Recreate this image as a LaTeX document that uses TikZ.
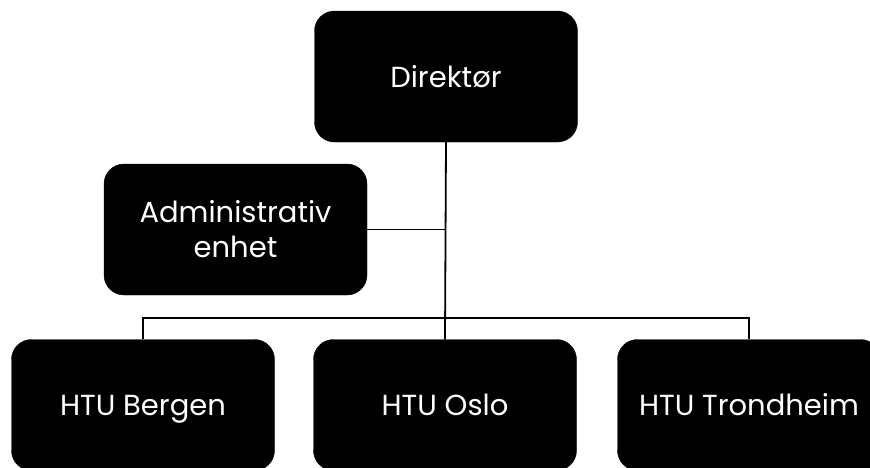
\documentclass[tikz,border=0pt]{standalone}
\usepackage{fontspec}
\setmainfont{Poppins}
\begin{document}
\begin{tikzpicture}[x=1pt,y=-1pt,
  orgbox/.style={fill=black,draw=black,rounded corners=20pt,minimum width=263pt,minimum height=131pt,text=white,font=\fontsize{29}{35}\selectfont,inner sep=0pt},
  onel/.style={orgbox,text height=21pt,text depth=0pt},
  conn/.style={draw=black,line width=1.8pt}]
\useasboundingbox (0,0) rectangle (870,467);
\begin{scope}
\clip (0,0) rectangle (870,467);
\node[onel] (dir) at (446,76.5) {Direktør};
\node[orgbox,align=center] (adm) at (235.5,229.5) {Administrativ\\enhet};
\node[onel] (berg) at (143,405) {HTU Bergen};
\node[onel] (oslo) at (445,405) {HTU Oslo};
\node[onel] (trond) at (749,405) {HTU Trondheim};
\coordinate (bus) at (446,318);
\draw[conn] (dir.south) -- (oslo.north);
\draw[conn] (adm.east) -- (adm.east -| dir.south);
\draw[conn] (berg.north) |- (bus) -| (trond.north);
\end{scope}
\end{tikzpicture}
\end{document}
